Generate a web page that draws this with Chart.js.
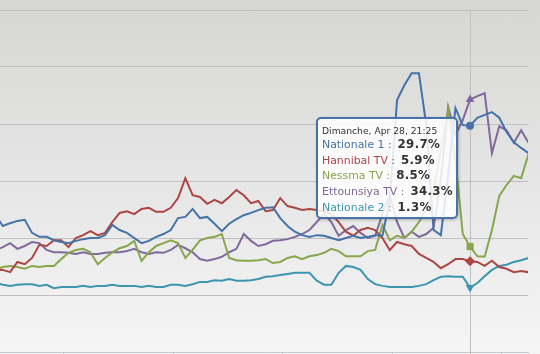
<!DOCTYPE html>
<html>
<head>
<meta charset="utf-8">
<script src="https://cdn.jsdelivr.net/npm/chart.js@4.4.0/dist/chart.umd.min.js"></script>
<style>
html, body { margin: 0; padding: 0; }
body {
    width: 540px; height: 354px; overflow: hidden; position: relative;
    font-family: "DejaVu Sans", Verdana, sans-serif;
    background: linear-gradient(to bottom, #d6d6d4 0px, #dadad7 45px, #e3e3e3 150px, #eeeeee 270px, #f5f5f5 354px);
}
#ChartCanvas { position: absolute; left: 0; top: 0; }
#tip {
    position: absolute; box-sizing: border-box; width: 142px; height: 102px;
    border: 2px solid #4572A7; border-radius: 5px;
    background: rgba(255, 255, 255, 0.85);
    box-shadow: 1px 1px 3px rgba(0, 0, 0, 0.25);
    padding: 6px 0 0 4px; white-space: nowrap;
}
#tip .hd { font-size: 9.2px; line-height: 12px; color: #333; }
#tip .row { font-size: 10.9px; line-height: 15.7px; }
#tip .row b { font-size: 11.8px; color: #333; margin-left: 6px; letter-spacing: 0.3px; }
</style>
</head>
<body>
<canvas id="ChartCanvas" width="540" height="354"></canvas>
<div id="tip"></div>
<script>
var firstTime = 765;   // 12:45, minutes since midnight
var stepMinutes = 8;
var hoverIndex = 65;   // 21:25
var hoverLabel = "Dimanche, Apr 28, 21:25";

var seriesNames = ["Nationale 1", "Hannibal TV", "Nessma TV", "Ettounsiya TV", "Nationale 2"];
var seriesColors = ['#4572A7', '#AA4643', '#89A54E', '#80699B', '#3D96AE'];

var nationale1 = [14.0, 12.1, 12.6, 13.0, 13.2, 10.9, 10.2, 10.2, 9.6, 9.3,
    9.1, 9.5, 9.8, 10.0, 10.0, 10.5, 12.3, 11.4, 10.9, 10.0,
    9.1, 9.5, 10.2, 10.7, 11.4, 13.5, 13.7, 15.1, 13.5, 13.7,
    12.5, 11.2, 12.5, 13.3, 14.0, 14.4, 14.9, 15.3, 15.4, 13.5,
    12.1, 11.1, 10.5, 10.2, 10.5, 10.4, 10.0, 9.6, 10.0, 10.4,
    10.0, 10.2, 10.5, 10.4, 16.7, 34.2, 36.8, 38.9, 38.9, 29.8,
    11.4, 10.5, 21.1, 32.8, 29.8, 29.7, 31.1, 31.6, 32.1, 31.1,
    28.6, 26.8, 25.8, 24.9];
var hannibal = [4.4, 4.4, 4.0, 5.8, 5.4, 6.5, 8.8, 8.6, 9.6, 9.6,
    8.4, 10.0, 10.5, 11.2, 10.5, 10.9, 12.8, 14.4, 14.7, 14.2,
    15.1, 15.3, 14.6, 14.6, 15.3, 17.0, 20.5, 17.5, 17.2, 16.0,
    16.7, 16.1, 17.2, 18.4, 17.5, 16.1, 16.5, 14.7, 14.9, 17.0,
    15.6, 15.3, 14.9, 15.1, 14.9, 14.7, 14.2, 12.8, 11.1, 10.4,
    11.4, 11.8, 11.4, 10.0, 7.9, 9.3, 8.9, 8.6, 7.2, 6.5,
    5.8, 4.7, 5.4, 6.3, 6.3, 5.9, 5.8, 5.1, 6.0, 4.9,
    4.6, 4.0, 4.2, 4.0];
var nessma = [4.4, 4.9, 5.1, 4.9, 4.6, 5.1, 4.9, 5.1, 5.1, 6.3,
    7.4, 7.9, 8.1, 7.5, 5.4, 6.5, 7.5, 8.2, 8.6, 9.5,
    6.0, 7.5, 8.6, 9.1, 9.6, 9.1, 6.5, 7.9, 9.6, 10.0,
    10.2, 10.7, 6.5, 6.1, 6.0, 6.0, 6.1, 6.3, 5.6, 5.8,
    6.5, 6.8, 6.3, 6.8, 7.0, 7.4, 8.1, 7.7, 6.8, 6.8,
    6.8, 7.7, 7.9, 12.3, 9.6, 10.4, 10.0, 11.1, 12.8, 14.9,
    18.4, 25.4, 32.5, 23.7, 10.7, 8.5, 6.8, 6.7, 11.4, 17.4,
    19.3, 20.9, 20.5, 24.7];
var ettounsiya = [7.9, 8.4, 9.1, 8.1, 8.6, 9.3, 9.1, 7.9, 7.5, 7.5,
    7.4, 7.2, 7.5, 7.2, 7.2, 7.4, 7.5, 7.5, 7.7, 8.1,
    7.5, 7.2, 7.5, 7.4, 7.9, 8.8, 8.2, 7.5, 6.3, 6.0,
    6.3, 6.7, 7.5, 8.1, 10.7, 9.5, 8.6, 8.9, 9.5, 9.6,
    9.8, 10.2, 10.7, 11.4, 12.8, 14.2, 12.8, 10.4, 11.4, 12.1,
    10.9, 10.0, 10.4, 14.2, 17.4, 12.8, 10.0, 11.1, 10.2, 10.7,
    11.8, 20.2, 33.0, 28.1, 30.7, 34.3, 34.9, 35.4, 24.9, 29.6,
    28.9, 26.7, 28.9, 26.7];
var nationale2 = [2.1, 1.8, 1.6, 1.8, 1.9, 1.9, 1.6, 1.8, 1.2, 1.4,
    1.4, 1.4, 1.6, 1.4, 1.6, 1.6, 1.8, 1.6, 1.6, 1.6,
    1.4, 1.6, 1.4, 1.4, 1.8, 1.8, 1.6, 1.9, 2.3, 2.3,
    2.6, 2.5, 2.8, 2.5, 2.5, 2.6, 2.8, 3.2, 3.3, 3.5,
    3.7, 3.9, 3.9, 3.9, 2.5, 1.8, 1.8, 3.9, 5.1, 4.9,
    4.4, 2.8, 1.9, 1.6, 1.4, 1.4, 1.4, 1.4, 1.6, 1.9,
    2.6, 3.2, 3.3, 3.2, 3.2, 1.3, 2.1, 3.3, 4.4, 5.1,
    5.3, 5.8, 6.1, 6.5];

var seriesValues = [nationale1, hannibal, nessma, ettounsiya, nationale2];
var pointStyles = ['circle', 'rectRot', 'rect', 'triangle', 'triangle'];
var pointRotations = [0, 0, 0, 0, 180];
var pointSizes = [4, 5, 5, 5, 5];

var times = [];
for (var i = 0; i < nationale1.length; i++) times.push(firstTime + i * stepMinutes);

var crosshair = { //grey vertical line at the hovered time
    id: 'crosshair',
    beforeDatasetsDraw: function(chart)
    {
        var x = Math.round(chart.scales.x.getPixelForValue(times[hoverIndex])) + 0.5;
        var c = chart.ctx;
        c.save();
        c.strokeStyle = '#C0C0C0';
        c.lineWidth = 1;
        c.beginPath();
        c.moveTo(x, chart.chartArea.top);
        c.lineTo(x, chart.chartArea.bottom + 2);
        c.stroke();
        c.restore();
    }
};

var datasets = [];
for (var s = 0; s < seriesNames.length; s++)
{
    var pts = [];
    for (var i = 0; i < times.length; i++) pts.push({ x: times[i], y: seriesValues[s][i] });
    datasets.push({
        label: seriesNames[s],
        data: pts,
        borderColor: seriesColors[s],
        backgroundColor: seriesColors[s],
        borderWidth: 2,
        tension: 0,
        pointStyle: pointStyles[s],
        pointRotation: pointRotations[s],
        pointRadius: (function(r) { return function(c) { return c.dataIndex === hoverIndex ? r : 0; }; })(pointSizes[s]),
        pointBorderWidth: 0
    });
}

var chart = new Chart(document.getElementById("ChartCanvas").getContext("2d"), {
    type: 'line',
    data: { datasets: datasets },
    options: {
        responsive: false,
        animation: false,
        events: [],
        layout: { padding: { top: 10, right: 12, left: 0, bottom: 0 } },
        plugins: { legend: { display: false }, tooltip: { enabled: false } },
        scales: {
            x: {
                type: 'linear', min: 769.9, max: 1348.5,
                afterFit: function(sc) { sc.height = 2; },
                ticks: { display: false, stepSize: 120, includeBounds: false },
                grid: { drawOnChartArea: false, tickLength: 5, color: '#C0C8D0' },
                border: { color: '#C0C8D0' }
            },
            y: {
                min: -10, max: 50,
                afterFit: function(sc) { sc.width = 0; },
                ticks: { display: false, stepSize: 10 },
                grid: {
                    drawTicks: false,
                    color: function(c) { return c.tick.value === -10 ? 'rgba(0,0,0,0)' : '#C0C0C0'; }
                },
                border: { display: false }
            }
        }
    },
    plugins: [crosshair]
});

// shared tooltip box, placed left of the hovered point
var tip = document.getElementById('tip');
var html = '<div class="hd">' + hoverLabel + '</div>';
for (var s = 0; s < seriesNames.length; s++)
{
    html += '<div class="row"><span style="color:' + seriesColors[s] + '">' + seriesNames[s] +
        ' :</span><b>' + seriesValues[s][hoverIndex].toFixed(1) + '%</b></div>';
}
tip.innerHTML = html;
var px = chart.scales.x.getPixelForValue(times[hoverIndex]);
var py = chart.scales.y.getPixelForValue(nationale1[hoverIndex]);
tip.style.left = Math.round(px - 12 - 142) + 'px';
tip.style.top = Math.round(py - 9) + 'px';
</script>
</body>
</html>
